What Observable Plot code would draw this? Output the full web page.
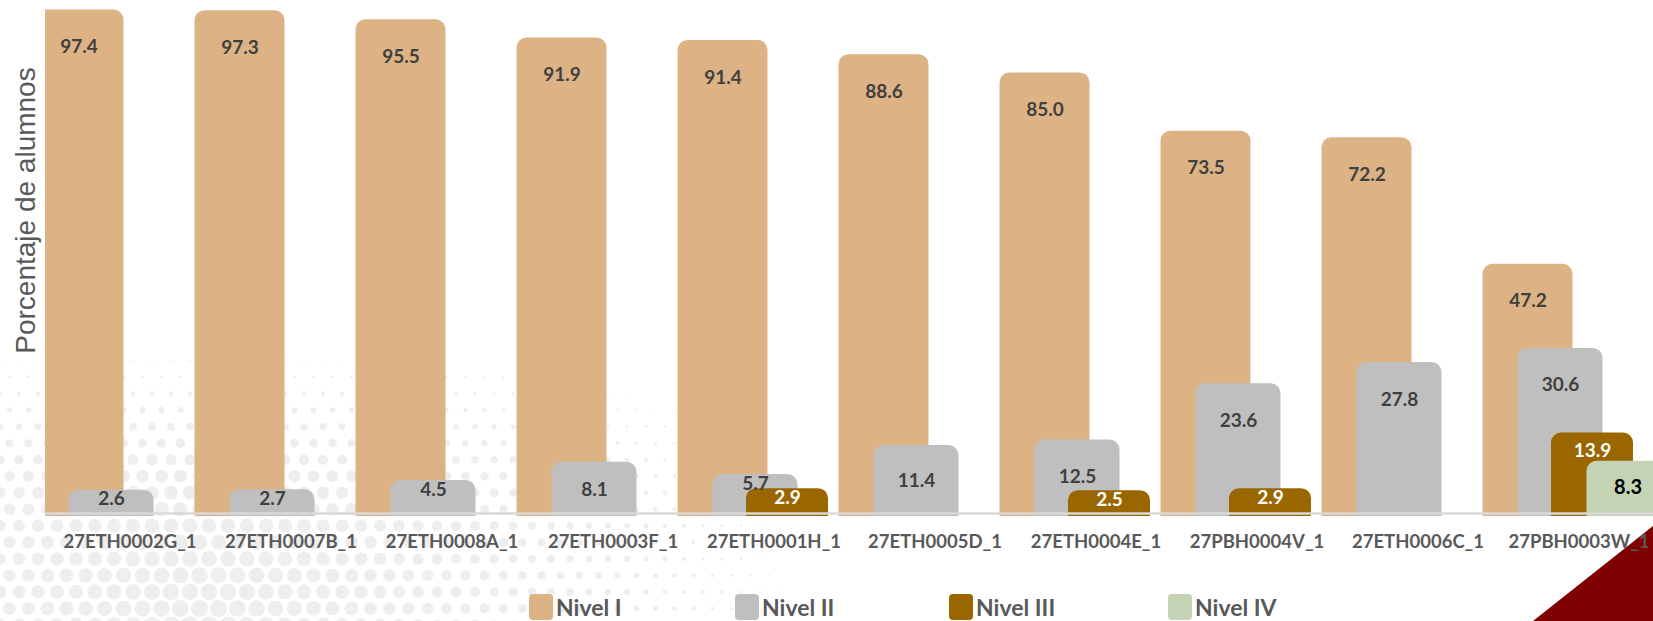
<!DOCTYPE html>
<html>
<head>
<meta charset="utf-8">
<script src="https://cdn.jsdelivr.net/npm/d3@7"></script>
<script src="https://cdn.jsdelivr.net/npm/@observablehq/plot@0.6"></script>
<style>
  html, body { margin: 0; padding: 0; background: #ffffff; }
  #wrap { position: relative; width: 1653px; height: 621px; overflow: hidden; }
  #bg { position: absolute; left: 0; top: 0; z-index: 0; }
  #chart { position: relative; z-index: 1; height: 580px; }
  #chart svg { background: transparent !important; display: block; }
  #legend { position: relative; z-index: 1; display: flex; padding-left: 529px; padding-top: 13px; height: 28px; }
  .item { display: flex; align-items: center; }
  .sw { width: 24px; height: 26px; border-radius: 4px; margin-right: 3px; }
  .lab { font-family: Lato, "Open Sans", sans-serif; font-weight: bold; font-size: 23px; color: #595959; line-height: 28px; }
</style>
</head>
<body>
<div id="wrap">
  <svg id="bg" width="1653" height="621"></svg>
  <div id="chart"></div>
  <div id="legend"></div>
</div>
<script>
// ---------- data ----------
const schools = ["27ETH0002G_1", "27ETH0007B_1", "27ETH0008A_1", "27ETH0003F_1", "27ETH0001H_1",
                 "27ETH0005D_1", "27ETH0004E_1", "27PBH0004V_1", "27ETH0006C_1", "27PBH0003W_1"];
const nivelI   = [97.4, 97.3, 95.5, 91.9, 91.4, 88.6, 85.0, 73.5, 72.2, 47.2];
const nivelII  = [2.6, 2.7, 4.5, 8.1, 5.7, 11.4, 12.5, 23.6, 27.8, 30.6];
const nivelIII = [null, null, null, null, 2.9, null, 2.5, 2.9, null, 13.9];
const nivelIV  = [null, null, null, null, null, null, null, null, null, 8.3];
const seriesNames  = ["Nivel I", "Nivel II", "Nivel III", "Nivel IV"];
const seriesValues = [nivelI, nivelII, nivelIII, nivelIV];
const seriesColors = ["#DDB385", "#BFBFBF", "#996600", "#C4D3B4"];
const yTitle = "Porcentaje de alumnos";

// ---------- layout / style ----------
const W = 1653, H = 580, PLOT_BOTTOM = 516;
const Y_MIN = -2.6, Y_MAX = 99.3;
const BAR_FLOOR = -7;           // bars run below the frame and are clipped (square bottoms)
const X_RANGE = [48.5, 1658.5];
const band = (X_RANGE[1] - X_RANGE[0]) / schools.length;
const k = PLOT_BOTTOM / (Y_MAX - Y_MIN);   // px per unit
const seriesStyle = [
  {dx: -51,   w: 90, text: "#404040", inset: 37, size: 19},
  {dx: -18.5, w: 85, text: "#404040", inset: 37, size: 19},
  {dx: 13.5,  w: 82, text: "#ffffff", inset: 18, size: 19},
  {dx: 49,    w: 82, text: "#000000", inset: 26, size: 20}
];
const fmt = d3.format(".1f");

function labelY(v, st) {
  const h = (v - Y_MIN) * k;             // visible bar height in px
  const off = h < 50 ? 9 : Math.min(st.inset, h / 2);
  return v - off / k;
}

const tables = seriesNames.map((name, si) =>
  schools.map((s, i) => ({school: s, series: name, value: seriesValues[si][i]}))
         .filter(d => d.value != null));

const marks = [];
tables.forEach((rows, si) => {
  const st = seriesStyle[si];
  const ins = (band - st.w) / 2;
  marks.push(Plot.barY(rows, {
    x: "school", y1: () => BAR_FLOOR, y2: "value",
    fill: seriesColors[si], dx: st.dx, insetLeft: ins, insetRight: ins,
    rx: 10, clip: true
  }));
});
marks.push(Plot.ruleY([-2], {stroke: "#D9D9D9", strokeWidth: 2.5}));
tables.forEach((rows, si) => {
  const st = seriesStyle[si];
  marks.push(Plot.text(rows, {
    x: "school", y: d => labelY(d.value, st), text: d => fmt(d.value),
    dx: st.dx, fill: st.text, fontSize: st.size, fontWeight: "bold",
    fontFamily: "Lato"
  }));
});
marks.push(Plot.axisX({tickSize: 0, tickPadding: 18, fontSize: 18.5, fontWeight: "bold",
  fill: "#595959", fontFamily: "Lato", label: null}));

const chart = Plot.plot({
  width: W, height: H,
  marginLeft: 45, marginRight: 0, marginTop: 0, marginBottom: H - PLOT_BOTTOM,
  x: {domain: schools, range: X_RANGE, padding: 0, axis: null},
  y: {domain: [Y_MIN, Y_MAX], axis: null},
  style: {background: "transparent", overflow: "visible"},
  marks
});
document.getElementById("chart").appendChild(chart);

// y-axis title
d3.select(chart).append("text")
  .attr("transform", "translate(25,210.5) rotate(-90)")
  .attr("text-anchor", "middle").attr("dy", "0.35em")
  .attr("font-family", "Liberation Sans, Arial, sans-serif")
  .attr("font-size", 28).attr("fill", "#595959")
  .text(yTitle);

// ---------- legend ----------
const itemWidths = [206, 214, 219, 150];
const legend = document.getElementById("legend");
seriesNames.forEach((name, i) => {
  const it = document.createElement("div");
  it.className = "item";
  it.style.width = itemWidths[i] + "px";
  it.innerHTML = `<div class="sw" style="background:${seriesColors[i]}"></div><span class="lab">${name}</span>`;
  legend.appendChild(it);
});

// ---------- background decoration (halftone dots + corner triangle) ----------
const bg = d3.select("#bg");
const dots = [];
const sp = 19;
for (let row = 0; row < 40; row++) {
  for (let col = 0; col < 50; col++) {
    const x = col * sp + (row % 2 ? sp / 2 : 0);
    const y = 625 - row * sp * 0.87;
    const d = Math.hypot(x - 200, y - 640);
    const fade = Math.max(0, Math.min(1, (y - 330) / 150));
    const r = 9 * (1 - d / 640) * fade;
    if (r > 0.8) dots.push({x, y, r});
  }
}
bg.selectAll("circle").data(dots).join("circle")
  .attr("cx", d => d.x).attr("cy", d => d.y).attr("r", d => d.r).attr("fill", "#eeeeee");
bg.append("polygon").attr("points", "1533,621 1653,526 1653,621").attr("fill", "#7F0000");
</script>
</body>
</html>
